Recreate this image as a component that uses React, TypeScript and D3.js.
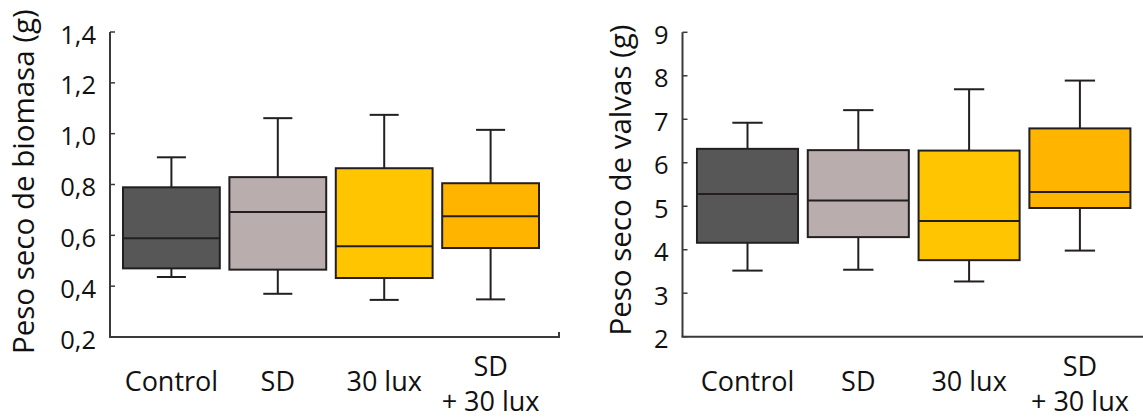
import React from "react";
import * as d3 from "d3";

// ---- Data ----
const categories = ["Control", "SD", "30 lux", "SD + 30 lux"];
const categoryLabelLines = [["Control"], ["SD"], ["30 lux"], ["SD", "+ 30 lux"]];
const boxColors = ["#575757", "#b9aead", "#ffc600", "#ffb500"];

// Panel A: Peso seco de biomasa (g)
const biomasaMin = [0.436, 0.37, 0.346, 0.348];
const biomasaQ1 = [0.47, 0.465, 0.432, 0.55];
const biomasaMedian = [0.589, 0.692, 0.557, 0.675];
const biomasaQ3 = [0.789, 0.829, 0.864, 0.805];
const biomasaMax = [0.907, 1.061, 1.074, 1.015];
const biomasaTicks = [0.2, 0.4, 0.6, 0.8, 1.0, 1.2, 1.4];

// Panel B: Peso seco de valvas (g)
const valvasMin = [3.52, 3.54, 3.27, 3.98];
const valvasQ1 = [4.16, 4.29, 3.76, 4.96];
const valvasMedian = [5.28, 5.13, 4.66, 5.33];
const valvasQ3 = [6.32, 6.29, 6.28, 6.79];
const valvasMax = [6.92, 7.21, 7.69, 7.89];
const valvasTicks = [2, 3, 4, 5, 6, 7, 8, 9];

const FONT = "'Open Sans', 'Noto Sans', sans-serif";
const INK = "#231f20";
const AXIS = "#3a3a3a";

type PanelProps = {
  title: string;
  titleX: number;
  titleY: number;
  axisX: number;
  axisRight: number;
  endTick: boolean;
  yDomain: [number, number];
  yRange: [number, number];
  xRange: [number, number];
  paddingInner: number;
  paddingOuter: number;
  ticks: number[];
  fmt: (v: number) => string;
  mins: number[];
  q1s: number[];
  meds: number[];
  q3s: number[];
  maxs: number[];
};

function Panel(p: PanelProps) {
  const y = d3.scaleLinear().domain(p.yDomain).range(p.yRange);
  const x = d3
    .scaleBand<string>()
    .domain(categories)
    .range(p.xRange)
    .paddingInner(p.paddingInner)
    .paddingOuter(p.paddingOuter);
  const bw = x.bandwidth();
  const capW = bw * 0.3;
  const baseY = p.yRange[0];
  const topY = p.yRange[1];

  return (
    <g>
      {/* axes */}
      <line x1={p.axisX} x2={p.axisX} y1={topY} y2={baseY} stroke={AXIS} strokeWidth={2} />
      <line x1={p.axisX - 1} x2={p.axisRight} y1={baseY} y2={baseY} stroke={AXIS} strokeWidth={2} />
      {p.endTick && (
        <line x1={p.axisRight - 1} x2={p.axisRight - 1} y1={baseY} y2={baseY - 5} stroke={AXIS} strokeWidth={2} />
      )}
      {p.ticks.map((t, i) => (
        <g key={"t" + i}>
          <line x1={p.axisX} x2={p.axisX + 5} y1={y(t)} y2={y(t)} stroke={AXIS} strokeWidth={1.5} />
          <text
            x={p.axisX - 14}
            y={y(t) + 11.5}
            textAnchor="end"
            fontFamily={FONT}
            fontSize={25.5}
            fill="#111"
          >
            {p.fmt(t)}
          </text>
        </g>
      ))}
      {/* boxes */}
      {categories.map((c, i) => {
        const x0 = x(c) as number;
        const cx = x0 + bw / 2;
        return (
          <g key={"b" + i}>
            <line x1={cx} x2={cx} y1={y(p.maxs[i])} y2={y(p.q3s[i])} stroke={INK} strokeWidth={2} />
            <line x1={cx} x2={cx} y1={y(p.q1s[i])} y2={y(p.mins[i])} stroke={INK} strokeWidth={2} />
            <line x1={cx - capW / 2} x2={cx + capW / 2} y1={y(p.maxs[i])} y2={y(p.maxs[i])} stroke={INK} strokeWidth={2} />
            <line x1={cx - capW / 2} x2={cx + capW / 2} y1={y(p.mins[i])} y2={y(p.mins[i])} stroke={INK} strokeWidth={2} />
            <rect
              x={x0}
              y={y(p.q3s[i])}
              width={bw}
              height={y(p.q1s[i]) - y(p.q3s[i])}
              fill={boxColors[i]}
              stroke={INK}
              strokeWidth={2}
            />
            <line x1={x0} x2={x0 + bw} y1={y(p.meds[i])} y2={y(p.meds[i])} stroke={INK} strokeWidth={2} />
            {categoryLabelLines[i].length === 1 ? (
              <text x={cx} y={391.3} textAnchor="middle" fontFamily={FONT} fontSize={27} fill="#111">
                {categoryLabelLines[i][0]}
              </text>
            ) : (
              categoryLabelLines[i].map((ln, j) => (
                <text
                  key={j}
                  x={cx}
                  y={376 + j * 34.5}
                  textAnchor="middle"
                  fontFamily={FONT}
                  fontSize={27}
                  fill="#111"
                >
                  {ln}
                </text>
              ))
            )}
          </g>
        );
      })}
      <text
        transform={`translate(${p.titleX},${p.titleY}) rotate(-90)`}
        textAnchor="middle"
        fontFamily={FONT}
        fontSize={29.5}
        fill="#111"
      >
        {p.title}
      </text>
    </g>
  );
}

const commaFmt = (v: number) => d3.format(".1f")(v).replace(".", ",");
const intFmt = (v: number) => d3.format("d")(v);

export default function App() {
  return (
    <svg
      width={1143}
      height={417}
      viewBox="0 0 1143 417"
      style={{ position: "absolute", left: 0, top: 0, background: "#fff" }}
    >
      <rect x={0} y={0} width={1143} height={417} fill="#fff" />
      <Panel
        title="Peso seco de biomasa (g)"
        titleX={34}
        titleY={181.7}
        axisX={110}
        axisRight={560}
        endTick={true}
        yDomain={[0.2, 1.4]}
        yRange={[337, 32]}
        xRange={[118.2, 543.8]}
        paddingInner={0.09}
        paddingOuter={0.045}
        ticks={biomasaTicks}
        fmt={commaFmt}
        mins={biomasaMin}
        q1s={biomasaQ1}
        meds={biomasaMedian}
        q3s={biomasaQ3}
        maxs={biomasaMax}
      />
      <Panel
        title="Peso seco de valvas (g)"
        titleX={631}
        titleY={180}
        axisX={682.5}
        axisRight={1143}
        endTick={false}
        yDomain={[2, 9]}
        yRange={[336.7, 32.3]}
        xRange={[692.1, 1135.3]}
        paddingInner={0.088}
        paddingOuter={0.044}
        ticks={valvasTicks}
        fmt={intFmt}
        mins={valvasMin}
        q1s={valvasQ1}
        meds={valvasMedian}
        q3s={valvasQ3}
        maxs={valvasMax}
      />
    </svg>
  );
}
